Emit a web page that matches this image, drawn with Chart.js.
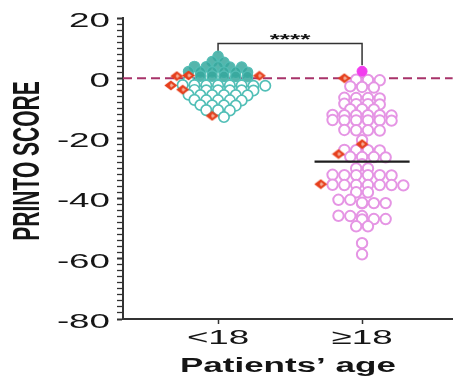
<!DOCTYPE html>
<html>
<head>
<meta charset="utf-8">
<script src="https://cdn.jsdelivr.net/npm/chart.js@4.4.1/dist/chart.umd.min.js"></script>
<style>
  html, body { margin: 0; padding: 0; background: #fff; }
</style>
</head>
<body>
<canvas id="chart" width="460" height="377"></canvas>
<script>
// categories on the x axis
const CATEGORIES = ['<18', '\u226518'];
const CATEGORY_POS = [1, 2];

// PRINTO score, patients <18
const YOUNG_FILLED = [7.3, 5.5, 5.3, 3.9, 3.8, 3.8, 3.7, 3.7, 2.2, 2.1, 2.1, 2.0, 2.0, 2.0, 0.7, 0.7, 0.6, 0.6, 0.5];
const YOUNG_OPEN = [
  -0.8, -0.8, -0.7, -0.9, -0.8, -0.8,
  -2.4, -2.4, -2.5, -2.3, -2.4, -2.4, -2.5, -2.3,
  -4.0, -4.0, -4.1, -3.9, -4.0, -4.0,
  -5.6, -5.6, -5.7, -5.6, -5.5, -5.6,
  -7.3, -7.3, -7.2, -7.3, -7.4,
  -9.0, -9.0, -8.9, -9.1,
  -10.6, -10.6, -10.7,
  -12.9
];
const YOUNG_MARKED = [0.9, 0.8, 0.7, -2.4, -3.8, -12.5];

// PRINTO score, patients >=18
const ADULT_FILLED = [2.3];
const ADULT_OPEN = [
  -0.5, -0.6, -0.7,
  -2.9, -3.1, -2.7,
  -6.6, -6.6, -6.5, -6.7,
  -8.6, -8.6, -8.5, -8.7,
  -10.3, -10.3, -10.4,
  -12.3, -12.3, -12.2, -12.4, -12.3, -12.3,
  -14.0, -14.0, -14.1, -13.9, -14.0, -14.0,
  -17.3, -17.3, -17.2, -17.4,
  -20.6,
  -23.9, -23.9, -23.8, -24.0,
  -26.2, -26.2, -26.3, -26.1,
  -28.6,
  -30.0, -30.0,
  -32.2, -32.2, -32.1, -32.3, -32.2, -32.2,
  -35.5, -35.5, -35.4, -35.6, -35.5, -35.5, -35.5,
  -37.9, -37.9,
  -40.4, -40.4,
  -41.5, -41.5, -41.6, -41.4,
  -45.8, -45.8, -45.7,
  -46.8, -46.8, -46.9,
  -49.2, -49.2,
  -54.8,
  -58.5
];
const ADULT_MARKED = [0.0, -21.9, -25.2, -35.2];
const ADULT_MEDIAN = -27.7;

const REF_LINE = 0;
const SIG_LABEL = '****';
const BRACKET = { left: 8.6, top: 11.5, right: 4.3, label: 13.6 };

const Y_MIN = -80, Y_MAX = 20, Y_LABEL_STEP = 20, Y_MINOR_STEP = 2;
const X_MIN = 0.34, X_MAX = 2.63;
const STRETCH = 1.75; // the figure text is drawn wide

function diamondImg() {
  const c = document.createElement('canvas');
  c.width = 14; c.height = 11;
  const g = c.getContext('2d');
  g.beginPath();
  g.moveTo(0.5, 5.5); g.lineTo(7, 0.5); g.lineTo(13.5, 5.5); g.lineTo(7, 10.5);
  g.closePath();
  g.fillStyle = '#e63f1c';
  g.fill();
  g.beginPath();
  g.moveTo(7, 3.2); g.lineTo(10, 5.5); g.lineTo(7, 7.8); g.lineTo(6, 5.5);
  g.closePath();
  g.fillStyle = '#f5b19c';
  g.fill();
  return c;
}
const diamond = diamondImg();

const pts = (vals, pos) => vals.map(v => ({ x: pos, y: v }));

const datasets = [
  { // median
    data: [{ x: CATEGORY_POS[1] - 0.33, y: ADULT_MEDIAN }, { x: CATEGORY_POS[1] + 0.33, y: ADULT_MEDIAN }],
    showLine: true, borderColor: '#1e1e1e', borderWidth: 2.2, pointRadius: 0, order: 0
  },
  { data: pts(YOUNG_MARKED, 1), pointStyle: diamond, order: 1, group: 0, marked: true },
  { data: pts(ADULT_MARKED, 2), pointStyle: diamond, order: 1, group: 1, marked: true },
  { data: pts(YOUNG_FILLED, 1), pointRadius: 5.2, borderWidth: 1.2,
    backgroundColor: 'rgba(55,168,158,0.85)', borderColor: '#52bdb5', order: 2, group: 0 },
  { data: pts(ADULT_FILLED, 2), pointRadius: 5, borderWidth: 1,
    backgroundColor: '#f23cee', borderColor: '#f23cee', order: 2, group: 1 },
  { data: pts(YOUNG_OPEN, 1), pointRadius: 5.2, borderWidth: 1.7,
    backgroundColor: '#ffffff', borderColor: '#52bfb7', order: 3, group: 0 },
  { data: pts(ADULT_OPEN, 2), pointRadius: 5.2, borderWidth: 2,
    backgroundColor: '#ffffff', borderColor: '#e595e4', order: 3, group: 1 },
  { // significance bracket
    data: [{ x: 1, y: BRACKET.left }, { x: 1, y: BRACKET.top }, { x: 2, y: BRACKET.top }, { x: 2, y: BRACKET.right }],
    showLine: true, borderColor: '#333', borderWidth: 1.5, pointRadius: 0, order: 4
  },
  { // reference line at 0
    data: [{ x: X_MIN, y: REF_LINE }, { x: X_MAX, y: REF_LINE }],
    showLine: true, borderColor: '#a8336a', borderWidth: 2, borderDash: [9, 5], pointRadius: 0, order: 5
  }
];

const textPlugin = {
  id: 'wideText',
  afterDraw(chart) {
    const { ctx, chartArea } = chart;
    const x = chart.scales.x, y = chart.scales.y;
    const put = (txt, px, py, font, align, rot) => {
      ctx.save();
      ctx.translate(px, py);
      ctx.scale(STRETCH, 1);
      if (rot) ctx.rotate(rot);
      ctx.font = font;
      ctx.textAlign = align;
      ctx.fillText(txt, 0, 0);
      ctx.restore();
    };
    ctx.save();
    ctx.fillStyle = '#151515';
    ctx.textBaseline = 'middle';
    for (let v = Y_MAX; v >= Y_MIN; v -= Y_LABEL_STEP) {
      put(String(v), chartArea.left - 13, y.getPixelForValue(v) + 3, '21px "Liberation Sans", Arial, sans-serif', 'right');
    }
    CATEGORIES.forEach((c, i) => {
      put(c, x.getPixelForValue(CATEGORY_POS[i]), chartArea.bottom + 19, '21px "Liberation Sans", Arial, sans-serif', 'center');
    });
    put('Patients\u2019 age', (chartArea.left + chartArea.right) / 2, chartArea.bottom + 47,
      'bold 20px "Liberation Sans", Arial, sans-serif', 'center');
    put('PRINTO SCORE', 29, 161, 'bold 21px "Liberation Sans", Arial, sans-serif', 'center', -Math.PI / 2);
    ctx.textBaseline = 'alphabetic';
    put(SIG_LABEL, x.getPixelForValue(1.5), y.getPixelForValue(BRACKET.label) + 7,
      'bold 15px "Liberation Sans", Arial, sans-serif', 'center');
    ctx.restore();
  }
};

const chart = new Chart(document.getElementById('chart'), {
  type: 'scatter',
  data: { datasets },
  options: {
    responsive: false,
    animation: false,
    layout: { padding: { top: 18, right: 0, left: 0, bottom: 0 } },
    plugins: { legend: { display: false }, tooltip: { enabled: false } },
    scales: {
      x: {
        type: 'linear', min: X_MIN, max: X_MAX,
        afterBuildTicks: s => { s.ticks = CATEGORY_POS.map(v => ({ value: v })); },
        afterFit: s => { s.height = 58; },
        ticks: { display: false },
        grid: { drawOnChartArea: false, tickLength: 5, tickColor: '#333', tickWidth: 1.5 },
        border: { color: '#333', width: 2 }
      },
      y: {
        min: Y_MIN, max: Y_MAX,
        afterBuildTicks: s => {
          const t = [];
          for (let v = Y_MIN; v <= Y_MAX; v += Y_MINOR_STEP) t.push({ value: v });
          s.ticks = t;
        },
        afterFit: s => { s.width = 123; },
        ticks: { display: false },
        grid: {
          drawOnChartArea: false, tickLength: 6, tickColor: '#333',
          tickWidth: c => (c.tick && c.tick.value % Y_LABEL_STEP === 0 ? 2 : 1.3)
        },
        border: { color: '#333', width: 2 }
      }
    }
  },
  plugins: [textPlugin]
});

// column scatter: bin the points into rows, centre each row on its category
function layoutColumns(chart) {
  const xs = chart.scales.x, ys = chart.scales.y;
  const COL = 11.8, ROW = 3.5;
  CATEGORY_POS.forEach((pos, gi) => {
    const cx = xs.getPixelForValue(pos);
    const items = [];
    chart.data.datasets.forEach(ds => {
      if (ds.group !== gi) return;
      ds.data.forEach(p => items.push({ p, m: !!ds.marked }));
    });
    items.sort((a, b) => b.p.y - a.p.y);
    const rows = [];
    let cur = null;
    items.forEach(it => {
      const py = ys.getPixelForValue(it.p.y);
      if (!cur || py - cur.top >= ROW) { cur = { top: py, items: [] }; rows.push(cur); }
      cur.items.push(it);
    });
    rows.forEach(r => {
      const line = r.items.filter(i => !i.m);
      r.items.filter(i => i.m).forEach((mk, j) => (j % 2 ? line.push(mk) : line.unshift(mk)));
      const n = line.length;
      line.forEach((it, i) => { it.p.x = xs.getValueForPixel(cx + (i - (n - 1) / 2) * COL); });
    });
  });
  chart.update('none');
}
layoutColumns(chart);
</script>
</body>
</html>
